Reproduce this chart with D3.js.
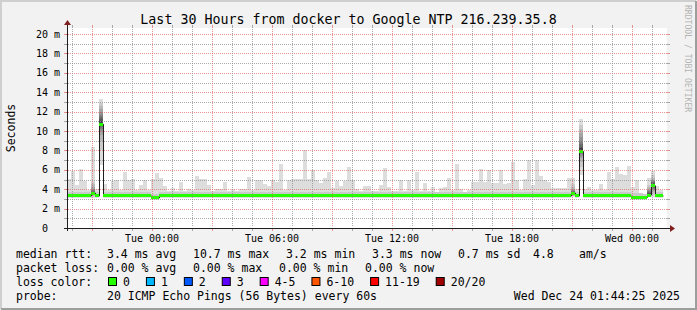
<!DOCTYPE html>
<html>
<head>
  <meta charset="utf-8">
  <title>Last 30 Hours from docker to Google NTP</title>
  <script src="https://cdn.jsdelivr.net/npm/d3@7/dist/d3.min.js"></script>
  <style>
    body { margin: 0; background: #f2f2f2; }
    text { font-family: "DejaVu Sans Mono", monospace; white-space: pre; }
  </style>
</head>
<body>
<svg id="chart" width="697" height="310"></svg>
<script>
  // 30 hours of 12 minute steps
  var startTime = new Date(2025, 11, 22, 19, 45);
  var endTime = new Date(2025, 11, 24, 1, 45);
  var stepMinutes = 12;

  // slowest ping of each step (top of the smoke), ms
  var smokeTop = [
    5.1, 5.9, 4.4, 6.05, 4.8, 3.9, 8.3, 4.0, 13.3, 4.5,
    3.9, 4.8, 5.0, 3.9, 5.8, 5.0, 5.1, 3.9, 4.4, 5.0,
    3.9, 5.1, 5.7, 5.2, 4.3, 3.8, 4.1, 3.8, 4.7, 3.8,
    4.0, 3.9, 5.35, 5.1, 5.1, 4.4, 3.8, 4.0, 4.0, 4.7,
    3.8, 4.0, 3.8, 4.0, 4.0, 5.3, 3.9, 4.9, 4.9, 4.5,
    4.3, 4.9, 4.7, 6.6, 3.9, 5.0, 5.1, 5.1, 5.1, 8.0,
    5.1, 6.0, 5.0, 4.6, 5.2, 5.8, 4.1, 4.8, 4.3, 4.8,
    6.3, 4.9, 4.0, 3.8, 4.3, 4.3, 3.8, 3.8, 4.4, 6.2,
    4.2, 3.8, 3.8, 5.0, 3.8, 4.9, 3.9, 5.75, 3.8, 4.6,
    3.8, 4.2, 3.7, 4.15, 4.2, 5.2, 3.9, 6.55, 4.0, 3.7,
    3.9, 4.7, 4.7, 6.1, 4.7, 6.0, 4.6, 4.6, 6.0, 4.5,
    4.6, 6.8, 4.9, 3.9, 5.1, 7.0, 4.45, 7.0, 5.4, 5.0,
    4.7, 4.1, 4.1, 4.1, 4.1, 5.2, 5.2, 4.0, 11.2, 4.0,
    4.2, 3.9, 3.9, 4.55, 3.95, 5.8, 5.05, 6.25, 5.6, 5.45,
    6.4, 4.2, 4.95, 3.6, 3.5, 5.15, 5.9, 4.3, 3.9
  ];

  // median rtt of each step, ms
  var medians = [
    3.3, 3.3, 3.3, 3.3, 3.3, 3.3, 3.6, 3.3, 10.7, 3.3,
    3.3, 3.3, 3.3, 3.3, 3.3, 3.3, 3.3, 3.3, 3.3, 3.3,
    3.3, 3.1, 3.1, 3.3, 3.3, 3.3, 3.3, 3.3, 3.3, 3.3,
    3.3, 3.3, 3.3, 3.3, 3.3, 3.3, 3.3, 3.3, 3.3, 3.3,
    3.3, 3.3, 3.3, 3.3, 3.3, 3.3, 3.3, 3.3, 3.3, 3.3,
    3.3, 3.3, 3.3, 3.3, 3.3, 3.3, 3.3, 3.3, 3.3, 3.3,
    3.3, 3.3, 3.3, 3.3, 3.3, 3.3, 3.3, 3.3, 3.3, 3.3,
    3.3, 3.3, 3.3, 3.3, 3.3, 3.3, 3.3, 3.3, 3.3, 3.3,
    3.3, 3.3, 3.3, 3.3, 3.3, 3.3, 3.3, 3.3, 3.3, 3.3,
    3.3, 3.3, 3.3, 3.3, 3.3, 3.3, 3.3, 3.3, 3.3, 3.3,
    3.3, 3.3, 3.3, 3.3, 3.3, 3.3, 3.3, 3.3, 3.3, 3.3,
    3.3, 3.3, 3.3, 3.3, 3.3, 3.3, 3.3, 3.3, 3.3, 3.3,
    3.3, 3.3, 3.3, 3.3, 3.3, 3.3, 3.6, 3.3, 7.9, 3.3,
    3.3, 3.3, 3.3, 3.3, 3.3, 3.3, 3.3, 3.3, 3.3, 3.3,
    3.3, 3.15, 3.15, 3.15, 3.15, 3.4, 4.35, 3.3, 3.3
  ];

  // steps where the whole ping spread is visible: 20 sorted pings each
  var detailSteps = [6, 8, 126, 128, 145, 146];
  var detailPings = [
    [3.1, 3.2, 3.3, 3.4, 3.45, 3.5, 3.55, 3.6, 3.6, 3.6, 3.65, 3.7, 3.75, 3.8, 3.9, 4.0, 4.2, 4.5, 4.7, 8.3],
    [6.5, 8.0, 9.0, 9.6, 10.0, 10.2, 10.4, 10.5, 10.6, 10.7, 10.8, 11.0, 11.2, 11.4, 11.7, 12.0, 12.3, 12.6, 12.9, 13.3],
    [3.2, 3.3, 3.35, 3.4, 3.45, 3.5, 3.55, 3.6, 3.6, 3.6, 3.65, 3.7, 3.75, 3.8, 3.85, 3.9, 4.0, 4.2, 4.5, 5.2],
    [5.5, 6.3, 6.8, 7.2, 7.4, 7.6, 7.7, 7.8, 7.85, 7.9, 8.0, 8.2, 8.4, 8.7, 9.0, 9.4, 9.8, 10.2, 10.6, 11.2],
    [3.2, 3.25, 3.3, 3.3, 3.35, 3.35, 3.4, 3.4, 3.4, 3.4, 3.45, 3.5, 3.6, 3.7, 3.8, 3.9, 4.0, 4.2, 4.4, 5.15],
    [3.2, 3.4, 3.6, 3.8, 3.9, 4.0, 4.1, 4.2, 4.3, 4.35, 4.4, 4.5, 4.6, 4.7, 4.8, 4.9, 5.0, 5.2, 5.45, 5.9]
  ];

  var yTicks = [0, 2, 4, 6, 8, 10, 12, 14, 16, 18, 20];
  var titleText = "Last 30 Hours from docker to Google NTP 216.239.35.8";
  var rttLegend = ["median rtt:", "3.4 ms avg", "10.7 ms max", "3.2 ms min", "3.3 ms now", "0.7 ms sd", "4.8", "am/s"];
  var lossLegend = ["packet loss:", "0.00 % avg", "0.00 % max", "0.00 % min", "0.00 % now"];
  var lossLabels = ["0", "1", "2", "3", "4-5", "6-10", "11-19", "20/20"];
  var lossColors = ["#26ff00", "#00b8ff", "#0059ff", "#5e00ff", "#ff00ff", "#ff5500", "#ff0000", "#a10000"];
  var probeText = "20 ICMP Echo Pings (56 Bytes) every 60s";
  var stampText = "Wed Dec 24 01:44:25 2025";

  var W = 697, H = 310;
  var plotL = 67, plotR = 667, plotT = 28, plotB = 228;
  var cw = 6.92; // legend char width

  var svg = d3.select("#chart");

  // frame
  svg.append("rect").attr("width", W).attr("height", H).attr("fill", "#f2f2f2");
  svg.append("path").attr("d", "M1,309V1H696").attr("fill", "none").attr("stroke", "#cfcfcf").attr("stroke-width", 2);
  svg.append("path").attr("d", "M1,309H696V1").attr("fill", "none").attr("stroke", "#9e9e9e").attr("stroke-width", 2);
  svg.append("rect").attr("x", plotL).attr("y", plotT).attr("width", plotR - plotL).attr("height", plotB - plotT).attr("fill", "#fff");

  var x = d3.scaleTime().domain([startTime, endTime]).range([plotL, plotR]);
  var y = d3.scaleLinear().domain([0, 20]).range([plotB, 34]);

  var stepTime = function(i) { return new Date(startTime.getTime() + i * stepMinutes * 60000); };
  var stepW = x(stepTime(1)) - x(stepTime(0));

  svg.append("clipPath").attr("id", "plot")
    .append("rect").attr("x", plotL).attr("y", plotT).attr("width", plotR - plotL).attr("height", plotB - plotT);
  var plot = svg.append("g").attr("clip-path", "url(#plot)");

  // smoke layers (outer = light, inner = dark)
  var gray = function(k) { var c = 221 - 19 * k; return "rgb(" + c + "," + c + "," + c + ")"; };
  smokeTop.forEach(function(top20, i) {
    var layers;
    var d = detailSteps.indexOf(i);
    if (d >= 0) {
      var p = detailPings[d];
      layers = d3.range(10).map(function(k) { return [p[k], p[19 - k], k]; });
    } else {
      var m = medians[i];
      layers = [[m - 0.25, top20, 0], [m - 0.15, Math.min(top20, m + 0.45), 1], [m - 0.1, Math.min(top20, m + 0.2), 2]];
    }
    plot.selectAll(null).data(layers).enter().append("rect")
      .attr("x", x(stepTime(i)))
      .attr("width", stepW)
      .attr("y", function(l) { return y(l[1]); })
      .attr("height", function(l) { return y(l[0]) - y(l[1]); })
      .attr("fill", function(l) { return gray(l[2]); })
      .attr("shape-rendering", "crispEdges");
  });

  // median line
  var medPts = medians.map(function(m, i) { return [x(stepTime(i)), y(m)]; });
  medPts.push([x(stepTime(medians.length)), y(medians[medians.length - 1])]);
  plot.append("path")
    .attr("d", d3.line().curve(d3.curveStepAfter)(medPts.map(function(p) { return [Math.round(p[0]) + 0.5, p[1]]; })))
    .attr("fill", "none").attr("stroke", "#202020").attr("stroke-width", 1);

  // loss colour band on the median (0 loss everywhere)
  plot.selectAll(".med").data(medians).enter().append("rect")
    .attr("x", function(m, i) { return x(stepTime(i)); })
    .attr("width", stepW)
    .attr("y", function(m) { return y(m) - 1.5; })
    .attr("height", 3)
    .attr("fill", lossColors[0])
    .attr("shape-rendering", "crispEdges");

  // grid
  var minorCol = "rgba(143,143,143,0.75)", majorCol = "rgba(222,79,79,0.6)";
  var grid = svg.append("g").attr("shape-rendering", "crispEdges");
  d3.range(1, 21).forEach(function(v) {
    var major = yTicks.indexOf(v) >= 0;
    var col = major ? majorCol : minorCol;
    var yy = Math.round(y(v)) + 0.5;
    grid.append("line").attr("x1", plotL - 1).attr("x2", plotR + 1).attr("y1", yy).attr("y2", yy)
      .attr("stroke", col).attr("stroke-dasharray", "1,1");
    grid.append("line").attr("x1", plotL - 3).attr("x2", plotL).attr("y1", yy).attr("y2", yy).attr("stroke", col);
    grid.append("line").attr("x1", plotR).attr("x2", plotR + 3).attr("y1", yy).attr("y2", yy).attr("stroke", col);
  });
  x.ticks(d3.timeHour.every(1)).forEach(function(t) {
    var major = t.getHours() % 3 === 0;
    var col = major ? majorCol : minorCol;
    var xx = Math.round(x(t)) + 0.5;
    grid.append("line").attr("x1", xx).attr("x2", xx).attr("y1", plotT + 1).attr("y2", plotB - 1)
      .attr("stroke", col).attr("stroke-dasharray", "1,1");
    grid.append("line").attr("x1", xx).attr("x2", xx).attr("y1", plotB).attr("y2", plotB + 3).attr("stroke", col);
    grid.append("line").attr("x1", xx).attr("x2", xx).attr("y1", plotT - 3).attr("y2", plotT).attr("stroke", col);
  });

  // axes with arrows
  svg.append("line").attr("x1", plotL - 3).attr("x2", plotR + 4).attr("y1", plotB + 0.5).attr("y2", plotB + 0.5)
    .attr("stroke", "#1f1f1f");
  svg.append("line").attr("x1", plotL + 0.5).attr("x2", plotL + 0.5).attr("y1", plotB + 3).attr("y2", plotT - 4)
    .attr("stroke", "#1f1f1f");
  svg.append("path").attr("d", "M" + (plotR + 3) + "," + (plotB - 3) + "L" + (plotR + 8) + "," + (plotB + 0.5) + "L" + (plotR + 3) + "," + (plotB + 4) + "Z")
    .attr("fill", "#801f1f");
  svg.append("path").attr("d", "M" + (plotL - 3) + "," + (plotT - 3) + "L" + (plotL + 0.5) + "," + (plotT - 8) + "L" + (plotL + 4) + "," + (plotT - 3) + "Z")
    .attr("fill", "#801f1f");

  // tick labels
  svg.selectAll(".ylab").data(yTicks).enter().append("text")
    .attr("x", function(v) { return v === 0 ? 60 - 2 * 6.02 : 60; })
    .attr("y", function(v) { return y(v) + 3.5; })
    .attr("text-anchor", "end").attr("font-size", 10)
    .text(function(v) { return v === 0 ? "0" : v + " m"; });
  svg.selectAll(".xlab").data(x.ticks(d3.timeHour.every(6))).enter().append("text")
    .attr("x", function(t) { return x(t); })
    .attr("y", 242)
    .attr("text-anchor", "middle").attr("font-size", 10)
    .text(d3.timeFormat("%a %H:%M"));

  // titles
  svg.append("text").attr("x", W / 2).attr("y", 24).attr("text-anchor", "middle")
    .attr("font-size", 13.3).text(titleText);
  svg.append("text").attr("transform", "translate(14.5,128) rotate(-90)").attr("text-anchor", "middle")
    .attr("font-size", 11.5).text("Seconds");
  svg.append("text").attr("transform", "translate(685,5) rotate(90)").attr("font-size", 8.1)
    .attr("fill", "#b4b4b4").text("RRDTOOL / TOBI OETIKER");

  // legend
  var legend = svg.append("g").attr("font-size", 11.5);
  var rttX = [16, 107, 193, 286, 372, 458, 533, 579];
  rttLegend.forEach(function(s, i) { legend.append("text").attr("x", rttX[i]).attr("y", 258).text(s); });
  var lossX = [16, 107, 193, 279, 365];
  lossLegend.forEach(function(s, i) { legend.append("text").attr("x", lossX[i]).attr("y", 272).text(s); });
  legend.append("text").attr("x", 16).attr("y", 286).text("loss color:");
  var cx = 108;
  lossLabels.forEach(function(s, i) {
    legend.append("rect").attr("x", cx + 0.5).attr("y", 277.5).attr("width", 8).attr("height", 8)
      .attr("fill", lossColors[i]).attr("stroke", "#000");
    legend.append("text").attr("x", cx + 15).attr("y", 286).text(s);
    cx = cx + 15 + s.length * cw + 16;
  });
  legend.append("text").attr("x", 16).attr("y", 300).text("probe:");
  legend.append("text").attr("x", 107).attr("y", 300).text(probeText);
  legend.append("text").attr("x", 680).attr("y", 300).attr("text-anchor", "end").text(stampText);
</script>
</body>
</html>
